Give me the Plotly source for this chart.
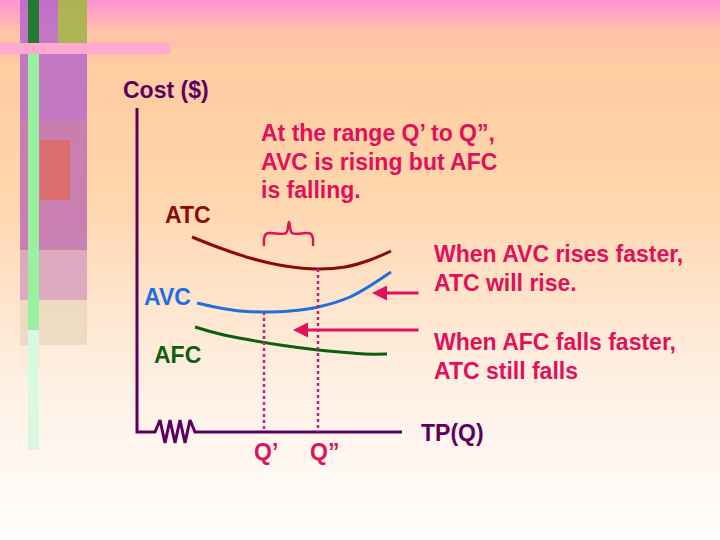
import plotly.graph_objects as go

# curve points (slide pixel coordinates)
atc_x = [192, 220, 250, 285, 318, 345, 370, 391]
atc_y = [237, 248, 258, 266, 269, 267, 260, 251]
avc_x = [197, 215, 240, 264, 290, 318, 350, 391]
avc_y = [303, 307, 311, 312, 311, 307, 297, 272]
afc_x = [195, 220, 250, 280, 310, 340, 365, 387]
afc_y = [327, 334, 340, 345, 349, 352, 354, 354]
axis_x = [137, 137, 155, 160, 165, 170, 175, 180, 185, 190, 195, 402]
axis_y = [108, 432, 432, 420, 443, 420, 443, 420, 443, 420, 432, 432]
q_x = [264, 318]
q_top = [312, 269]
brace_x = [264, 266, 286, 289, 292, 311, 313]
brace_y = [246, 234, 233, 222, 233, 234, 246]

TXT = "#E0105A"
PUR = "#5C0060"

fig = go.Figure()
fig.add_trace(go.Scatter(x=atc_x, y=atc_y, mode="lines", line=dict(color="#8B0A0A", width=3, shape="spline")))
fig.add_trace(go.Scatter(x=avc_x, y=avc_y, mode="lines", line=dict(color="#1E6FE0", width=3, shape="spline")))
fig.add_trace(go.Scatter(x=afc_x, y=afc_y, mode="lines", line=dict(color="#0B6010", width=3, shape="spline")))
fig.add_trace(go.Scatter(x=axis_x, y=axis_y, mode="lines", line=dict(color=PUR, width=3)))
for qx, qt in zip(q_x, q_top):
    fig.add_trace(go.Scatter(x=[qx, qx], y=[qt, 432], mode="lines", line=dict(color="#C0207A", width=2.5, dash="dot")))
fig.add_trace(go.Scatter(x=brace_x, y=brace_y, mode="lines", line=dict(color=TXT, width=2.5, shape="spline")))

shapes = []
# background: pink top fading into peach, then to white
stops = [(0, (255, 150, 205)), (30, (255, 195, 170)), (70, (255, 205, 160)), (200, (255, 215, 175)),
         (380, (255, 240, 228)), (540, (255, 255, 255))]
for i in range(len(stops) - 1):
    (y0, c0), (y1, c1) = stops[i], stops[i + 1]
    steps = max(4, (y1 - y0) // 6)
    for k in range(steps):
        t = k / steps
        c = tuple(int(c0[j] + (c1[j] - c0[j]) * t) for j in range(3))
        ya = y0 + (y1 - y0) * k / steps
        yb = y0 + (y1 - y0) * (k + 1) / steps + 1
        shapes.append(dict(type="rect", x0=0, x1=720, y0=ya, y1=yb, fillcolor=f"rgb{c}",
                           line_width=0, layer="below"))
# decorative left strip
deco = [(20, 87, 0, 120, "#B868C8"), (58, 87, 0, 45, "#A8C040"), (20, 87, 120, 250, "#C070B0"),
        (40, 70, 140, 200, "#E06860"), (20, 87, 250, 300, "#D8A0C0"), (20, 87, 300, 345, "#EAD8C0")]
for x0, x1, y0, y1, c in deco:
    shapes.append(dict(type="rect", x0=x0, x1=x1, y0=y0, y1=y1, fillcolor=c, line_width=0,
                       layer="below", opacity=0.85))
shapes.append(dict(type="rect", x0=0, x1=170, y0=43, y1=54, fillcolor="#FFA8D0", line_width=0, layer="below"))
shapes.append(dict(type="rect", x0=28, x1=39, y0=0, y1=43, fillcolor="#207A30", line_width=0, layer="below"))
shapes.append(dict(type="rect", x0=28, x1=39, y0=54, y1=330, fillcolor="#98F0A0", line_width=0, layer="below"))
shapes.append(dict(type="rect", x0=28, x1=39, y0=330, y1=450, fillcolor="#D8F8E0", line_width=0, layer="below"))
for s in shapes:
    s.update(xref="x", yref="y")
fig.update_layout(shapes=shapes)

ann = [
    (121, 90, "Cost ($)", PUR),
    (259, 133, "At the range Q’ to Q”,", TXT),
    (259, 162, "AVC is rising but AFC", TXT),
    (259, 190, "is falling.", TXT),
    (163, 215, "ATC", "#8B0A0A"),
    (142, 297, "AVC", "#1E6FE0"),
    (152, 355, "AFC", "#0B6010"),
    (432, 254, "When AVC rises faster,", TXT),
    (432, 283, "ATC will rise.", TXT),
    (432, 342, "When AFC falls faster,", TXT),
    (432, 371, "ATC still falls", TXT),
    (252, 452, "Q’", TXT),
    (308, 452, "Q”", TXT),
    (419, 433, "TP(Q)", PUR),
]
for x, y, t, c in ann:
    fig.add_annotation(x=x, y=y, text=f"<b>{t}</b>", showarrow=False, xanchor="left", yanchor="middle",
                       align="left", font=dict(family="Liberation Sans", size=23, color=c))
for y0, x1 in [(293, 372), (330, 293)]:
    fig.add_annotation(x=x1, y=y0, ax=420, ay=y0, axref="x", ayref="y", text="", showarrow=True,
                       arrowhead=2, arrowsize=1, arrowwidth=3, arrowcolor=TXT)

fig.update_layout(width=720, height=540, margin=dict(l=0, r=0, t=0, b=0), showlegend=False,
                  plot_bgcolor="white", paper_bgcolor="white",
                  xaxis=dict(range=[0, 720], visible=False, fixedrange=True),
                  yaxis=dict(range=[540, 0], visible=False, fixedrange=True))
fig.write_html("out.html", config={"displayModeBar": False},
               post_script="document.body.style.margin='0';")
